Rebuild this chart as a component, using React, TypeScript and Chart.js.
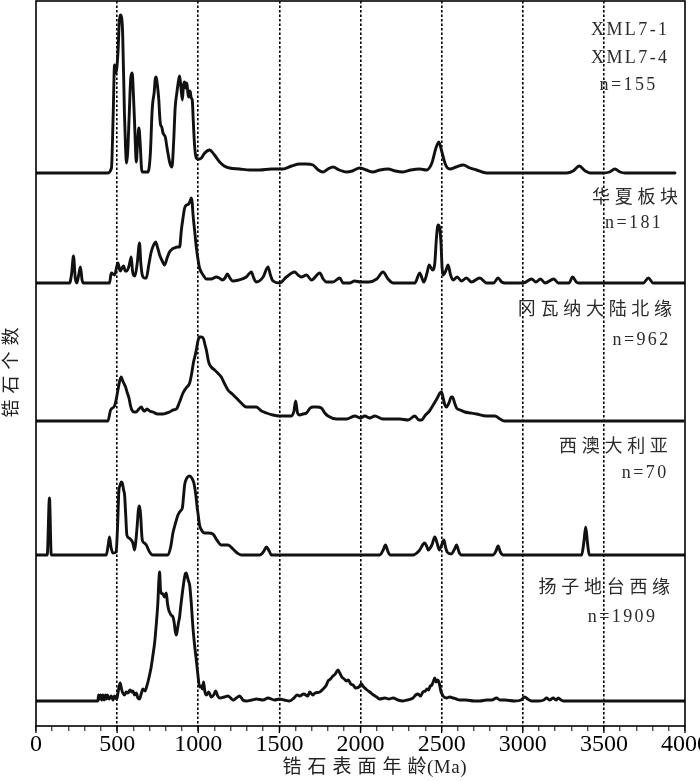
import React, { useEffect, useRef } from "react";
import { Chart, registerables } from "chart.js";
Chart.register(...registerables);

// ---------- data ----------
const X_TICKS = [0, 500, 1000, 1500, 2000, 2500, 3000, 3500, 4000];
const X_TITLE_CJK = "锆石表面年龄";
const X_TITLE_UNIT = "(Ma)";
const Y_TITLE = "锆石个数";

const SERIES_NAMES = [["XML7-1", "XML7-4"], ["华夏板块"], ["冈瓦纳大陆北缘"], ["西澳大利亚"], ["扬子地台西缘"]];
const SERIES_N = [155, 181, 962, 70, 1909];

// XML7-1 / XML7-4
const XML7_AGE = [0, 440, 465, 476, 484, 492, 505, 513, 519, 527, 534, 545, 552, 558, 565, 575, 584, 593, 600, 607, 612, 618, 626, 634, 642, 650, 655, 690, 705, 715, 720, 728, 735, 741, 748, 757, 762, 768, 775, 783, 790, 797, 805, 813, 825, 838, 848, 858, 868, 878, 885, 892, 902, 909, 916, 923, 930, 936, 941, 946, 951, 957, 963, 970, 978, 988, 998, 1008, 1019, 1040, 1070, 1100, 1132, 1160, 1193, 1255, 1320, 1379, 1450, 1521, 1575, 1625, 1665, 1707, 1740, 1768, 1800, 1830, 1870, 1913, 1950, 1995, 2035, 2076, 2120, 2170, 2215, 2261, 2310, 2365, 2407, 2440, 2465, 2483, 2500, 2525, 2550, 2590, 2633, 2675, 2715, 2777, 3270, 3310, 3348, 3385, 3414, 3495, 3535, 3568, 3600, 3630, 3938];
const XML7_VAL = [0, 0, 5, 60, 108, 100, 120, 150, 158, 156, 140, 60, 25, 10, 20, 60, 95, 100, 80, 53, 30, 11, 30, 45, 30, 5, 1, 1, 20, 60, 71, 80, 94, 96, 88, 73, 58, 48, 46, 40, 38, 36, 28, 20, 10, 6, 30, 66, 80, 92, 97, 88, 73, 88, 91, 85, 90, 80, 76, 82, 81, 75, 73, 50, 26, 15, 14, 14, 15, 20, 23, 18, 11, 7, 5, 4, 3, 3, 4, 4, 7, 9, 9, 8, 3, 1, 4, 6, 3, 1, 2, 5, 3, 1, 3, 4, 2, 1, 3, 4, 3, 10, 25, 31, 22, 8, 4, 6, 8, 5, 3, 0, 0, 2, 7, 2, 0, 0, 1, 4, 1, 0, 0];

// 华夏板块
const HX_AGE = [0, 207, 220, 231, 242, 252, 263, 274, 284, 293, 453, 464, 484, 505, 519, 530, 540, 550, 560, 575, 587, 595, 601, 610, 624, 638, 646, 655, 668, 680, 695, 710, 725, 737, 750, 762, 778, 793, 808, 823, 840, 854, 870, 885, 896, 906, 916, 928, 941, 950, 957, 963, 967, 978, 988, 1000, 1008, 1030, 1050, 1080, 1111, 1130, 1148, 1165, 1179, 1195, 1212, 1250, 1296, 1312, 1327, 1342, 1358, 1400, 1430, 1445, 1461, 1502, 1543, 1594, 1615, 1636, 1667, 1698, 1749, 1770, 1790, 1830, 1872, 1893, 1933, 1964, 2000, 2050, 2100, 2139, 2170, 2201, 2335, 2365, 2390, 2410, 2423, 2444, 2458, 2468, 2478, 2488, 2496, 2503, 2509, 2525, 2540, 2555, 2571, 2596, 2622, 2653, 2684, 2735, 2777, 2820, 2848, 2870, 2890, 3003, 3055, 3081, 3110, 3137, 3192, 3219, 3285, 3307, 3330, 3342, 3743, 3774, 3804, 4000];
const HX_VAL = [0, 0, 10, 27, 5, 0, 8, 16, 3, 0, 0, 10, 8, 20, 12, 15, 17, 12, 12, 18, 26, 12, 8, 7, 20, 40, 20, 8, 5, 5, 18, 31, 38, 41, 35, 28, 22, 18, 25, 31, 34, 35, 36, 36, 53, 65, 75, 78, 79, 82, 85, 80, 70, 52, 36, 22, 15, 8, 4, 4, 6, 5, 3, 5, 9, 5, 2, 3, 6, 9, 11, 5, 1, 6, 16, 8, 2, 0, 6, 11, 8, 6, 8, 3, 10, 4, 1, 1, 5, 0, 0, 2, 1, 1, 4, 11, 4, 0, 0, 10, 1, 10, 18, 13, 20, 45, 58, 55, 40, 15, 8, 12, 18, 8, 3, 6, 2, 5, 1, 5, 0, 0, 5, 1, 0, 0, 4, 1, 4, 0, 4, 0, 0, 6, 1, 0, 0, 5, 0, 0];

// 冈瓦纳大陆北缘
const GW_AGE = [0, 443, 460, 484, 495, 505, 516, 525, 535, 552, 563, 573, 583, 591, 605, 618, 634, 649, 660, 669, 684, 700, 720, 750, 782, 805, 823, 845, 865, 885, 906, 925, 947, 960, 971, 980, 988, 998, 1008, 1020, 1033, 1042, 1050, 1060, 1066, 1080, 1101, 1120, 1142, 1160, 1183, 1210, 1235, 1265, 1296, 1325, 1358, 1390, 1420, 1460, 1502, 1540, 1574, 1590, 1600, 1612, 1625, 1645, 1667, 1690, 1708, 1730, 1759, 1780, 1800, 1852, 1913, 1933, 1965, 2000, 2026, 2057, 2088, 2138, 2242, 2293, 2335, 2360, 2376, 2400, 2425, 2448, 2470, 2490, 2499, 2508, 2520, 2530, 2545, 2560, 2567, 2580, 2592, 2615, 2643, 2680, 2715, 2777, 2828, 2860, 2890, 3990];
const GW_VAL = [0, 0, 11, 15, 22, 31, 40, 44, 40, 34, 28, 23, 15, 11, 9, 9, 12, 14, 11, 10, 12, 10, 9, 7, 7, 8, 9, 11, 12, 19, 28, 33, 38, 48, 59, 65, 71, 80, 84, 84, 82, 76, 71, 62, 58, 54, 51, 48, 44, 38, 31, 27, 23, 18, 14, 14, 14, 10, 8, 6, 5, 5, 5, 10, 20, 8, 6, 7, 8, 13, 14, 14, 13, 8, 5, 2, 2, 3, 5, 3, 5, 3, 5, 2, 2, 1, 5, 1, 1, 6, 10, 16, 22, 28, 29, 24, 16, 14, 18, 24, 24, 18, 13, 11, 9, 8, 7, 5, 5, 2, 0, 0];

// 西澳大利亚
const WA_AGE = [0, 69, 83, 94, 433, 445, 453, 462, 474, 494, 503, 511, 519, 525, 532, 540, 546, 553, 560, 573, 587, 597, 608, 616, 624, 631, 638, 645, 650, 655, 668, 680, 700, 720, 813, 830, 844, 860, 875, 890, 902, 909, 916, 930, 947, 960, 973, 985, 993, 998, 1008, 1020, 1039, 1060, 1090, 1115, 1142, 1160, 1183, 1214, 1240, 1265, 1379, 1405, 1420, 1437, 1451, 2119, 2140, 2154, 2168, 2181, 2324, 2360, 2396, 2410, 2417, 2440, 2458, 2472, 2485, 2500, 2514, 2524, 2534, 2560, 2580, 2592, 2607, 2622, 2818, 2835, 2848, 2862, 2879, 3363, 3376, 3388, 3399, 3410, 4000];
const WA_VAL = [0, 0, 57, 0, 0, 10, 18, 8, 2, 3, 30, 65, 70, 73, 72, 65, 60, 40, 20, 17, 15, 12, 5, 15, 30, 45, 49, 40, 25, 15, 12, 10, 3, 0, 0, 8, 22, 32, 40, 44, 47, 58, 70, 77, 79, 77, 72, 60, 48, 42, 30, 25, 22, 22, 21, 15, 10, 10, 10, 6, 2, 0, 0, 4, 8, 4, 0, 0, 5, 10, 4, 0, 0, 4, 12, 8, 5, 10, 18, 12, 5, 10, 15, 8, 3, 1, 6, 10, 3, 0, 0, 4, 9, 3, 0, 0, 12, 28, 12, 0, 0];

// 扬子地台西缘
const YZ_AGE = [0, 381, 386, 392, 398, 405, 412, 420, 428, 433, 440, 450, 464, 475, 484, 492, 498, 505, 512, 519, 527, 535, 546, 556, 566, 580, 590, 597, 608, 618, 628, 638, 648, 659, 672, 683, 690, 700, 710, 720, 731, 741, 751, 757, 762, 767, 772, 782, 792, 803, 810, 818, 823, 832, 844, 852, 858, 865, 872, 878, 885, 893, 902, 912, 920, 926, 933, 940, 947, 957, 967, 978, 988, 998, 1008, 1018, 1025, 1033, 1040, 1050, 1065, 1080, 1095, 1107, 1120, 1132, 1160, 1183, 1200, 1214, 1235, 1255, 1275, 1296, 1330, 1358, 1400, 1430, 1470, 1502, 1530, 1563, 1590, 1610, 1625, 1650, 1675, 1687, 1705, 1720, 1749, 1770, 1790, 1800, 1815, 1830, 1845, 1855, 1862, 1872, 1885, 1900, 1913, 1925, 1940, 1954, 1970, 1990, 2005, 2020, 2040, 2057, 2080, 2100, 2119, 2150, 2175, 2201, 2230, 2262, 2290, 2324, 2340, 2355, 2370, 2385, 2400, 2410, 2420, 2430, 2440, 2450, 2458, 2466, 2475, 2485, 2495, 2509, 2530, 2550, 2571, 2590, 2612, 2650, 2700, 2735, 2777, 2810, 2838, 2860, 2890, 2950, 2990, 3013, 3030, 3055, 3100, 3130, 3147, 3165, 3188, 3205, 3219, 3235, 3250, 4000];
const YZ_VAL = [0, 0, 6, 2, 6, 1, 6, 1, 6, 2, 6, 2, 5, 1, 5, 3, 2, 8, 14, 18, 12, 8, 6, 9, 8, 11, 9, 10, 6, 8, 3, 2, 7, 12, 10, 15, 19, 26, 34, 45, 58, 76, 98, 120, 129, 112, 108, 107, 104, 108, 98, 91, 89, 86, 84, 78, 70, 66, 72, 78, 84, 96, 108, 120, 127, 128, 124, 120, 116, 98, 74, 55, 41, 26, 14, 15, 12, 19, 10, 6, 9, 4, 6, 10, 5, 3, 4, 5, 3, 1, 3, 5, 1, 0, 1, 2, 1, 3, 1, 2, 1, 0, 3, 6, 5, 7, 5, 9, 6, 8, 9, 12, 16, 20, 22, 25, 27, 30, 31, 28, 24, 22, 20, 21, 17, 16, 13, 14, 17, 14, 11, 9, 6, 4, 2, 3, 2, 3, 1, 0, 1, 3, 6, 7, 5, 9, 10, 12, 11, 15, 16, 20, 23, 19, 21, 18, 10, 5, 3, 4, 3, 2, 1, 1, 0, 0, 1, 1, 3, 1, 1, 0, 1, 4, 2, 0, 0, 1, 3, 1, 3, 1, 3, 1, 0, 0];

// ---------- layout (not data) ----------
const Y_MAX = 725;
const BASELINE = [553, 443, 305, 171, 25];
const SERIES = [
  { age: XML7_AGE, val: XML7_VAL },
  { age: HX_AGE, val: HX_VAL },
  { age: GW_AGE, val: GW_VAL },
  { age: WA_AGE, val: WA_VAL },
  { age: YZ_AGE, val: YZ_VAL },
];
// label anchor (x in Ma, y in axis units) for each text line of each series
const LABEL_POS = [
  [[3655, 696], [3655, 668], [3645, 641]],
  [[3692, 528], [3679, 503]],
  [[3445, 416], [3725, 386]],
  [[3559, 279], [3747, 253]],
  [[3503, 138], [3608, 109]],
];

const FONT_FAMILY = '"Liberation Serif", "Noto Sans CJK SC", serif';
const isCJK = (c: string) => /[\u3000-\u9fff]/.test(c);

function drawSpaced(ctx: CanvasRenderingContext2D, text: string, cx: number, cy: number, cjkGap: number, latinGap: number) {
  const chars = Array.from(text);
  const widths = chars.map((c) => ctx.measureText(c).width);
  const gaps = chars.map((c, i) => {
    if (i === chars.length - 1) return 0;
    const n = chars[i + 1];
    return isCJK(c) && isCJK(n) ? cjkGap : latinGap;
  });
  const total = widths.reduce((a, b) => a + b, 0) + gaps.reduce((a, b) => a + b, 0);
  let x = cx - total / 2;
  ctx.textAlign = "left";
  ctx.textBaseline = "middle";
  chars.forEach((c, i) => {
    ctx.fillText(c, x, cy);
    x += widths[i] + gaps[i];
  });
}

const framePlugin = {
  id: "frameAndText",
  afterDraw(chart: any) {
    const { ctx, chartArea } = chart;
    const { left, top, right, bottom } = chartArea;
    const xs = chart.scales.x;
    const ys = chart.scales.y;
    ctx.save();
    // major ticks (longer)
    ctx.strokeStyle = "#000";
    ctx.lineWidth = 1.3;
    X_TICKS.forEach((v) => {
      const px = xs.getPixelForValue(v);
      ctx.beginPath();
      ctx.moveTo(px, bottom);
      ctx.lineTo(px, bottom + 7);
      ctx.stroke();
    });
    // frame
    ctx.lineWidth = 1.6;
    ctx.strokeRect(left, top, right - left, bottom - top);

    // series labels
    ctx.fillStyle = "#2b2b2b";
    ctx.font = `18px ${FONT_FAMILY}`;
    SERIES_NAMES.forEach((names, i) => {
      const lines = [...names, `n=${SERIES_N[i]}`];
      lines.forEach((t, j) => {
        const p = LABEL_POS[i][j];
        drawSpaced(ctx, t, xs.getPixelForValue(p[0]), ys.getPixelForValue(p[1]), 4.7, 2.4);
      });
    });

    // x title
    ctx.fillStyle = "#222";
    ctx.font = `19px ${FONT_FAMILY}`;
    drawSpaced(ctx, X_TITLE_CJK + X_TITLE_UNIT, (left + right) / 2 + 14, bottom + 42, 6, 0.5);

    // y title
    ctx.translate(left - 24, (top + bottom) / 2 + 9);
    ctx.rotate(-Math.PI / 2);
    ctx.font = `18px ${FONT_FAMILY}`;
    drawSpaced(ctx, Y_TITLE, 0, 0, 6, 0);
    ctx.restore();
  },
};

export default function App() {
  const ref = useRef<HTMLCanvasElement>(null);
  useEffect(() => {
    const canvas = ref.current!;
    const datasets = SERIES.map((s, i) => ({
      data: s.age.map((a, j) => ({ x: a, y: s.val[j] + BASELINE[i] })),
      borderColor: "#111",
      borderWidth: 2.9,
      pointRadius: 0,
      fill: false,
      cubicInterpolationMode: "monotone" as const,
      borderJoinStyle: "round" as const,
      borderCapStyle: "round" as const,
    }));
    const chart = new Chart(canvas, {
      type: "line",
      data: { datasets },
      options: {
        responsive: false,
        animation: false,
        events: [],
        layout: { padding: { left: 36, top: 1, right: 55, bottom: 22 } },
        plugins: { legend: { display: false }, tooltip: { enabled: false } },
        scales: {
          x: {
            type: "linear",
            min: 0,
            max: 4000,
            ticks: {
              stepSize: 100,
              autoSkip: false,
              maxRotation: 0,
              minRotation: 0,
              padding: 2,
              color: "#000",
              font: { family: FONT_FAMILY, size: 24, lineHeight: 1 },
              callback: (v: any) => (Number(v) % 500 === 0 ? String(v) : ""),
            },
            grid: {
              color: (c: any) => {
                const v = c.tick ? c.tick.value : -1;
                return v % 500 === 0 && v > 0 && v < 4000 ? "#000" : "rgba(0,0,0,0)";
              },
              lineWidth: 1.6,
              drawTicks: true,
              tickLength: 5,
              tickColor: "#000",
              tickWidth: 1,
              tickBorderDash: [],
            } as any,
            border: { display: false, dash: [2.5, 2] } as any,
          },
          y: { display: false, min: 0, max: Y_MAX },
        },
      },
      plugins: [framePlugin],
    });
    return () => chart.destroy();
  }, []);
  return (
    <div style={{ position: "fixed", left: 0, top: 0, width: 700, height: 781, overflow: "hidden", background: "#fff" }}>
      <canvas ref={ref} width={740} height={781} style={{ width: 740, height: 781, display: "block" }} />
    </div>
  );
}
